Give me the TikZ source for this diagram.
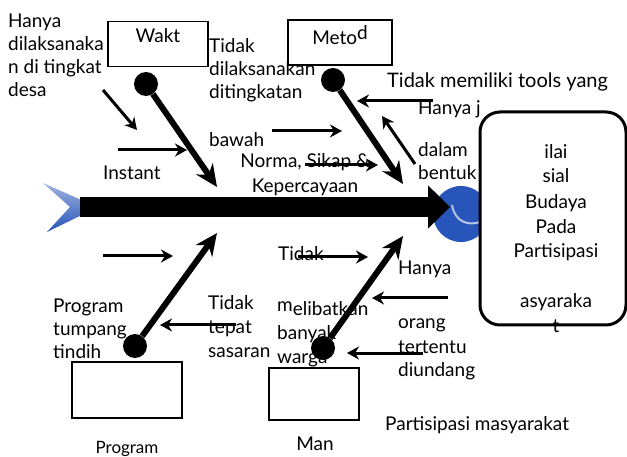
\documentclass[tikz,border=0pt]{standalone}
\usepackage{fontspec}
\setmainfont{Lato}
\usepackage{xcolor}
\usetikzlibrary{positioning, arrows.meta, shapes, calc}
\definecolor{fishblue}{RGB}{40,85,185}

\begin{document}
\begin{tikzpicture}[
        x=1pt, y=-1pt,
        txt/.style={font=\fontsize{19}{23}\selectfont, inner sep=0pt, align=left, anchor=base west},
        catbox/.style={draw, line width=1.5pt, inner sep=0pt, font=\fontsize{19}{23}\selectfont},
        dot/.style={circle, fill=black, minimum size=24pt, inner sep=0pt},
        bone/.style={line width=6pt, -{Stealth[length=22pt, width=20pt]}},
        arr/.style={line width=3pt, -{Stealth[length=12pt, width=13pt]}},
        spine/.style={line width=20pt, -{Triangle[length=22pt, width=42pt]}}
    ]
    \useasboundingbox (0,0) rectangle (627,457);

    % tail and head of the fish
    \shade[top color=fishblue!45, bottom color=fishblue] (43,183) -- (88,203) -- (88,212) -- (47,232) -- (70,207) -- cycle;
    \fill[fishblue] (461,214) circle[radius=28];
    \draw[fishblue!35, line width=2pt] (452,205) .. controls (455,222) and (468,226) .. (480,222);

    \coordinate (tail) at (80,207);
    \coordinate (head) at (450,207);
    \draw[spine] (tail) -- (head);

    \node[draw, line width=3pt, rounded corners=20pt, fill=white, minimum width=146pt, minimum height=213pt] (goal) at (553,218.5) {};
    \node[txt, align=center, anchor=base, font=\fontsize{19}{25}\selectfont] (goalTxt) at (556,333) {ilai\\sial\\Budaya\\Pada\\Partisipasi\\[25pt]asyaraka\\t};

    % category boxes
    \node[catbox, minimum width=100pt, minimum height=45pt, text height=12pt, text depth=14pt] (wakt) at (158,44) {Wakt};
    \node[catbox, minimum width=104pt, minimum height=45pt, text height=12pt, text depth=7pt] (metod) at (340,42.5) {Meto\raisebox{5pt}{d}};
    \node[catbox, minimum width=110pt, minimum height=56pt] (program) at (127,390) {};
    \node[catbox, minimum width=90pt, minimum height=52pt] (man) at (314,394) {};
    \node[txt, anchor=base, font=\fontsize{17}{20}\selectfont] (programLbl) at (127,453) {Program};
    \node[txt, anchor=base] (manLbl) at (315,450) {Man};

    % causes
    \node[txt] (hanyaDesa) at (8,97) {Hanya\\dilaksanaka\\n di tingkat\\desa};
    \node[txt] (tidakAtas) at (209,99) {Tidak\\dilaksanakan\\ditingkatan};
    \node[txt] (bawah) at (209,147) {bawah};
    \node[txt] (instant) at (103,180) {Instant};
    \node[txt, align=center, anchor=base, font=\fontsize{19}{25}\selectfont] (norma) at (305,193) {Norma, Sikap \&\\Kepercayaan};
    \node[txt, font=\fontsize{20}{24}\selectfont] (tools) at (387,88) {Tidak memiliki tools yang};
    \node[txt] (hanyaJ) at (418,115) {Hanya j};
    \node[txt] (dalam) at (418,180) {dalam\\bentuk};
    \node[txt] (tidakBawah) at (278,261) {Tidak};
    \node[txt] (hanyaBawah) at (398,275) {Hanya};
    \node[txt, font=\fontsize{19}{24}\selectfont] (melibatkan) at (277,363) {\raisebox{4pt}{m}elibatkan\\banyak\\warga};
    \node[txt, font=\fontsize{19}{24}\selectfont] (orang) at (398,377) {orang\\tertentu\\diundang};
    \node[txt] (tumpang) at (53,358) {Program\\tumpang\\tindih};
    \node[txt, font=\fontsize{19}{24}\selectfont] (tepat) at (208,357) {Tidak\\tepat\\sasaran};
    \node[txt] (partisipasi) at (385,430) {Partisipasi masyarakat};

    % small arrows
    \foreach \i/\s/\e in {1/{103,90}/{137,130}, 2/{118,150}/{187,150}, 3/{272,131}/{342,131},
        4/{305,165}/{378,165}, 5/{433,101}/{357,101}, 6/{415,164}/{382,116},
        7/{103,256}/{173,256}, 8/{236,325}/{160,325}, 9/{298,257}/{368,257},
        10/{448,298}/{372,298}, 11/{423,353}/{347,353}} {
        \coordinate (a\i) at (\s);
        \coordinate (b\i) at (\e);
        \draw[arr] (a\i) -- (b\i);
    }

    % bones
    \foreach \n/\d/\t in {wakt/{146,84}/{217,187}, metod/{333,80}/{403,184},
        program/{135,346}/{217,233}, man/{323,348}/{403,236}} {
        \node[dot] (\n Dot) at (\d) {};
        \coordinate (\n Tip) at (\t);
        \draw[bone] (\n Dot) -- (\n Tip);
    }
\end{tikzpicture}
\end{document}
